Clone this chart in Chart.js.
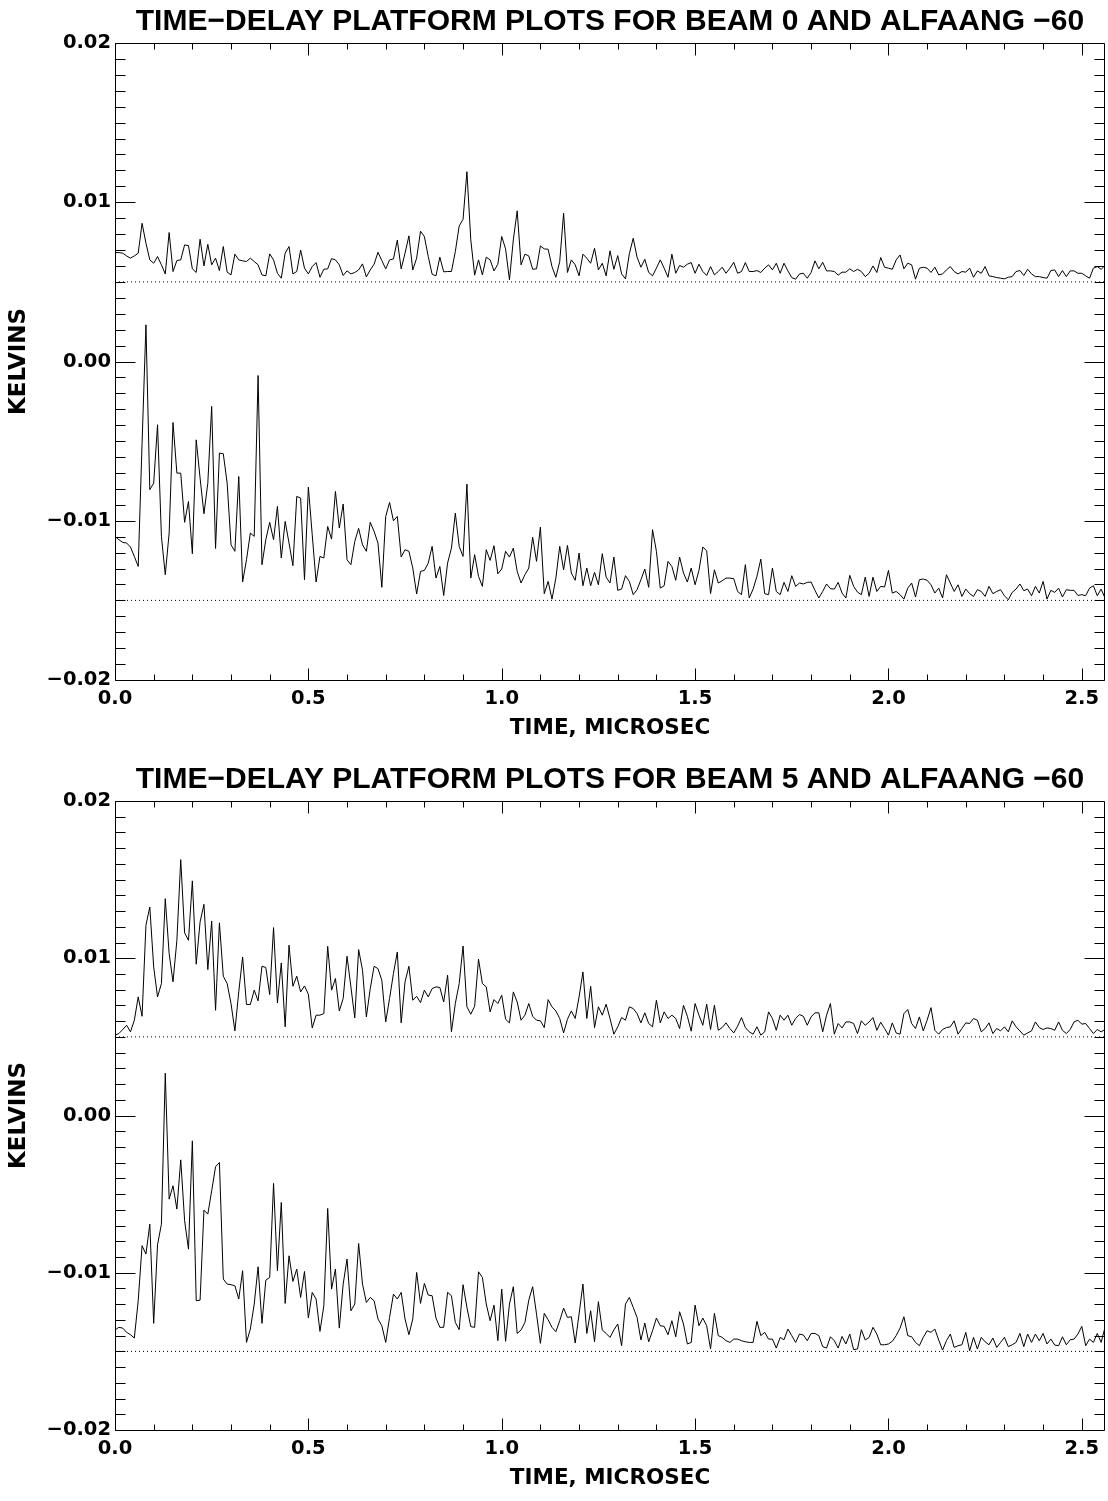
<!DOCTYPE html>
<html>
<head>
<meta charset="utf-8">
<title>Time-delay platform plots</title>
<script src="https://cdn.jsdelivr.net/npm/chart.js@4.4.1/dist/chart.umd.min.js"></script>
<style>
  html, body { margin: 0; padding: 0; background: #fff; }
  body { width: 1108px; height: 1501px; position: relative; overflow: hidden; }
  canvas { position: absolute; left: 0; }
  #beam0Chart { top: 0; }
  #beam5Chart { top: 758px; }
</style>
</head>
<body>
<canvas id="beam0Chart" width="1108" height="750"></canvas>
<canvas id="beam5Chart" width="1108" height="742"></canvas>
<script>
// sampling of the delay axis (microseconds)
const sampleStepUs = 0.01;
const xMaxUs = 2.56;

// all series values in millikelvin
const beam0Upper = [
  6.84, 6.84, 6.80, 6.63, 6.49, 6.63, 6.80, 8.68, 7.43, 6.38,
  6.17, 6.59, 6.07, 5.50, 8.10, 5.65, 6.34, 6.38, 7.32, 7.28,
  5.82, 5.59, 7.68, 6.00, 7.36, 6.07, 6.49, 5.71, 7.22, 5.61,
  5.44, 6.74, 6.38, 6.32, 6.28, 6.49, 6.28, 6.07, 5.44, 5.38,
  6.76, 6.38, 5.54, 5.23, 6.80, 7.22, 5.50, 5.65, 7.00, 5.86,
  5.50, 5.96, 6.21, 5.29, 5.79, 5.82, 6.46, 6.38, 6.07, 5.40,
  5.69, 5.50, 5.59, 5.75, 6.13, 5.31, 5.75, 6.11, 6.86, 6.34,
  5.82, 6.38, 6.44, 7.62, 5.82, 6.80, 7.89, 5.75, 6.49, 8.18,
  7.85, 6.59, 5.48, 5.38, 6.55, 5.63, 5.65, 5.65, 6.90, 8.51,
  8.93, 11.92, 7.64, 5.42, 6.38, 5.44, 6.55, 6.38, 5.69, 6.11,
  7.85, 7.07, 5.13, 7.64, 9.46, 6.07, 6.74, 6.63, 5.79, 5.82,
  7.26, 7.07, 7.05, 5.96, 5.29, 6.28, 9.31, 5.59, 6.38, 6.07,
  5.38, 6.74, 6.49, 6.17, 7.11, 5.75, 6.17, 5.38, 6.95, 5.79,
  6.65, 5.50, 5.19, 6.76, 7.74, 6.55, 5.92, 6.42, 5.59, 5.38,
  5.86, 6.38, 5.86, 5.29, 6.74, 5.54, 6.03, 5.92, 6.11, 6.21,
  5.54, 6.11, 5.65, 5.40, 5.96, 5.44, 5.65, 5.92, 5.54, 5.86,
  6.23, 5.54, 5.65, 6.21, 5.65, 5.65, 5.71, 5.59, 5.86, 6.07,
  5.75, 6.17, 5.54, 6.17, 5.69, 5.27, 5.17, 5.50, 5.54, 5.23,
  5.59, 6.32, 5.82, 6.23, 5.69, 5.69, 5.65, 5.42, 5.61, 5.61,
  5.82, 5.65, 5.79, 5.65, 5.33, 5.54, 6.00, 5.59, 6.53, 5.92,
  5.86, 5.79, 6.38, 6.69, 5.82, 6.17, 6.07, 5.17, 5.86, 5.92,
  5.86, 5.59, 5.92, 5.44, 5.50, 5.75, 5.96, 5.65, 5.50, 5.65,
  5.61, 5.86, 5.29, 5.69, 5.54, 5.96, 5.38, 5.33, 5.27, 5.23,
  5.19, 5.29, 5.33, 5.65, 5.71, 5.40, 5.79, 5.50, 5.33, 5.33,
  5.27, 5.23, 5.71, 5.75, 5.33, 5.71, 5.33, 5.69, 5.69, 5.54,
  5.54, 5.38, 5.23, 5.86, 5.96, 5.79, 6.03
];

const beam0Lower = [
  -10.98, -11.19, -11.36, -11.40, -11.65, -12.24, -12.87, -5.13, 2.30, -8.05,
  -7.64, -3.97, -10.98, -13.39, -10.77, -3.83, -7.01, -7.01, -10.10, -8.79,
  -12.07, -4.92, -7.32, -9.56, -7.64, -2.82, -11.74, -5.75, -5.79, -7.64,
  -11.51, -11.92, -7.22, -13.85, -12.45, -10.77, -10.98, -0.88, -12.76, -11.19,
  -10.10, -11.19, -9.10, -12.34, -10.04, -11.40, -12.82, -8.47, -8.58, -13.70,
  -7.89, -10.88, -13.85, -12.24, -12.34, -10.36, -11.15, -8.16, -10.46, -8.95,
  -12.45, -12.76, -11.30, -10.48, -11.51, -11.92, -10.10, -10.67, -11.40, -14.18,
  -9.73, -8.85, -10.00, -9.73, -12.28, -11.82, -11.92, -12.97, -14.60, -13.18,
  -13.12, -12.66, -11.61, -13.60, -12.87, -14.69, -12.66, -11.72, -9.52, -11.61,
  -12.24, -7.70, -13.60, -12.13, -13.49, -14.12, -11.82, -12.49, -11.57, -13.33,
  -13.03, -11.92, -12.28, -11.72, -13.18, -13.91, -13.39, -12.97, -11.03, -12.55,
  -10.40, -14.58, -13.81, -14.92, -13.60, -11.61, -13.08, -11.55, -13.28, -13.74,
  -12.03, -14.08, -12.97, -14.08, -13.24, -14.02, -12.07, -13.54, -13.91, -12.28,
  -14.37, -14.29, -13.45, -13.81, -14.64, -14.33, -13.70, -13.03, -14.18, -10.56,
  -11.92, -14.23, -14.08, -12.55, -12.87, -13.74, -12.28, -13.28, -13.85, -12.97,
  -14.02, -13.12, -11.65, -11.88, -14.58, -13.08, -13.91, -13.77, -13.60, -13.60,
  -13.64, -14.44, -14.64, -12.76, -14.85, -14.29, -13.49, -12.41, -14.58, -14.64,
  -12.97, -14.44, -14.64, -13.87, -14.44, -13.45, -14.12, -13.91, -13.97, -13.87,
  -13.85, -14.37, -14.85, -14.44, -13.97, -14.27, -14.29, -13.87, -14.54, -14.85,
  -13.43, -14.12, -14.48, -14.64, -13.54, -14.75, -13.54, -14.44, -14.12, -14.16,
  -13.12, -14.54, -14.44, -14.64, -14.92, -14.23, -13.91, -14.79, -13.70, -13.66,
  -13.74, -14.02, -14.54, -14.23, -14.85, -13.39, -13.91, -14.44, -14.02, -14.75,
  -14.29, -14.58, -14.75, -14.33, -14.44, -14.75, -14.12, -14.58, -14.44, -14.33,
  -14.71, -14.96, -14.50, -14.29, -13.97, -14.39, -14.29, -14.71, -14.12, -14.54,
  -13.81, -14.92, -14.37, -14.50, -14.23, -14.79, -14.33, -14.37, -14.37, -14.69,
  -14.64, -14.71, -14.23, -14.08, -14.71, -14.29, -14.85
];

const beam5Upper = [
  5.11, 5.21, 5.47, 5.74, 5.32, 6.06, 7.54, 6.31, 12.10, 13.26,
  9.45, 7.54, 8.39, 13.79, 10.30, 8.50, 11.14, 16.27, 11.61, 11.14,
  14.92, 9.62, 12.31, 13.43, 9.28, 12.37, 6.69, 12.25, 8.86, 8.39,
  7.12, 5.38, 7.86, 10.08, 7.06, 7.06, 7.97, 7.29, 9.49, 9.41,
  7.69, 11.95, 7.16, 9.70, 5.64, 10.83, 8.22, 8.86, 7.86, 8.24,
  7.71, 5.57, 6.38, 6.38, 6.48, 10.76, 7.97, 8.71, 6.65, 7.44,
  10.13, 8.18, 6.21, 10.55, 9.24, 6.27, 8.07, 9.49, 9.34, 8.60,
  5.95, 7.44, 9.03, 10.40, 5.89, 8.50, 9.49, 7.33, 7.58, 7.18,
  7.97, 7.54, 8.07, 8.18, 8.14, 7.22, 8.92, 5.32, 7.12, 8.39,
  10.78, 6.91, 6.44, 6.95, 9.94, 8.39, 8.18, 6.59, 7.37, 7.12,
  7.65, 6.12, 5.89, 7.86, 7.22, 6.06, 6.38, 7.12, 6.31, 6.06,
  6.02, 5.59, 7.37, 6.91, 6.65, 6.17, 5.25, 6.12, 6.65, 6.17,
  7.54, 9.13, 6.17, 8.22, 5.59, 6.91, 6.38, 7.08, 6.17, 5.17,
  5.64, 6.23, 6.06, 6.91, 6.80, 6.48, 5.89, 6.53, 5.85, 5.64,
  7.33, 5.89, 6.59, 6.17, 6.38, 6.17, 5.53, 7.01, 6.31, 5.36,
  7.12, 6.38, 5.74, 7.08, 5.47, 7.01, 5.42, 5.59, 5.89, 5.53,
  5.25, 5.68, 6.23, 5.59, 5.32, 5.17, 5.64, 5.11, 5.32, 6.59,
  6.17, 5.42, 6.38, 6.06, 6.38, 5.74, 6.17, 6.42, 6.31, 5.74,
  6.27, 6.53, 6.53, 5.32, 6.38, 7.12, 5.17, 5.85, 5.57, 5.95,
  5.95, 5.85, 5.21, 6.02, 5.74, 5.95, 6.23, 5.42, 5.93, 5.53,
  5.11, 5.89, 5.25, 5.17, 6.48, 6.74, 5.85, 5.53, 6.27, 5.38,
  6.06, 6.86, 5.42, 5.17, 5.47, 5.59, 5.64, 6.02, 5.17, 5.53,
  5.89, 5.85, 6.17, 6.06, 5.32, 5.53, 5.89, 5.21, 5.53, 5.38,
  5.64, 5.32, 6.02, 5.64, 5.38, 5.11, 5.25, 5.38, 5.95, 5.59,
  5.47, 5.57, 5.53, 5.42, 5.95, 5.42, 5.21, 5.47, 5.95, 6.06,
  5.81, 5.85, 5.53, 5.21, 5.47, 5.32, 5.47
];

const beam5Lower = [
  -13.64, -13.47, -13.52, -13.79, -13.94, -14.15, -11.78, -8.28, -8.81, -6.91,
  -13.22, -8.22, -6.91, 2.69, -5.32, -4.47, -5.95, -2.82, -6.69, -8.50,
  -1.61, -11.78, -11.74, -6.02, -6.27, -4.79, -3.26, -2.99, -10.40, -10.72,
  -10.76, -10.83, -11.67, -9.87, -14.43, -13.58, -11.99, -9.62, -13.22, -10.47,
  -10.30, -4.32, -9.87, -5.53, -11.95, -8.92, -10.55, -9.77, -11.57, -9.92,
  -12.88, -11.25, -11.67, -13.73, -12.10, -5.91, -11.04, -9.77, -13.52, -10.72,
  -9.13, -12.42, -11.99, -8.14, -10.72, -11.89, -11.57, -11.78, -12.94, -13.37,
  -14.43, -12.84, -11.36, -11.67, -11.25, -12.94, -13.94, -12.94, -9.98, -11.95,
  -10.68, -11.42, -11.46, -12.88, -13.47, -13.47, -11.25, -11.46, -13.16, -13.62,
  -10.76, -12.20, -13.43, -13.47, -9.94, -10.30, -11.99, -13.05, -12.06, -14.32,
  -11.04, -14.36, -11.99, -10.89, -13.86, -13.64, -13.16, -11.74, -10.89, -12.63,
  -14.49, -12.58, -12.99, -13.47, -13.75, -13.05, -12.25, -12.84, -12.80, -14.47,
  -12.63, -10.72, -13.86, -12.42, -14.39, -11.84, -13.64, -13.86, -14.11, -13.64,
  -13.26, -14.64, -11.99, -11.57, -12.20, -12.84, -14.28, -13.20, -14.39, -13.69,
  -12.88, -13.37, -13.41, -13.94, -13.05, -14.07, -12.48, -13.26, -14.53, -14.43,
  -12.06, -13.37, -12.88, -13.37, -14.85, -12.58, -14.00, -14.11, -14.32, -14.43,
  -14.22, -14.22, -14.32, -14.39, -14.43, -14.43, -13.09, -14.00, -13.79, -14.22,
  -14.22, -14.79, -14.11, -14.26, -13.58, -14.00, -14.43, -13.90, -13.96, -14.32,
  -13.86, -13.86, -14.00, -14.70, -14.79, -14.07, -14.32, -14.79, -14.05, -14.53,
  -13.90, -14.89, -14.85, -13.62, -14.28, -14.11, -13.47, -13.90, -14.58, -14.58,
  -14.53, -14.36, -14.00, -13.52, -12.80, -14.00, -14.07, -14.43, -14.64, -14.11,
  -13.69, -13.79, -13.58, -14.28, -14.92, -14.32, -13.90, -14.75, -14.64, -14.58,
  -13.79, -14.96, -14.11, -14.85, -14.11, -14.39, -14.58, -14.15, -14.75, -14.43,
  -14.11, -14.70, -14.58, -14.43, -13.86, -14.70, -13.90, -14.43, -13.90, -14.32,
  -13.86, -14.53, -14.22, -14.60, -14.64, -14.07, -14.58, -14.26, -14.22, -13.90,
  -13.41, -14.64, -14.22, -14.43, -13.86, -14.43, -13.47
];

// dotted reference levels (mK)
const baselinesMk = [5, -15];

const xTickValues = [0, 0.5, 1.0, 1.5, 2.0, 2.5];
const xTickLabels = ['0.0', '0.5', '1.0', '1.5', '2.0', '2.5'];
const yTickValues = [-20, -10, 0, 10, 20];
const yTickLabels = ['\u22120.02', '\u22120.01', '0.00', '0.01', '0.02'];

const timeUs = beam0Upper.map((_, i) => i * sampleStepUs);

const tickFont = { family: 'DejaVu Sans', size: 19.5, weight: 'bold' };

function toPoints(values) {
    return values.map((v, i) => ({ x: timeUs[i], y: v }));
}

// IDL style frame: box with inward major/minor ticks on all four sides
const idlFrame = {
    id: 'idlFrame',
    afterDatasetsDraw(chart) {
        const { ctx, chartArea: a, scales: { x, y } } = chart;
        ctx.save();
        ctx.strokeStyle = '#000';
        ctx.lineWidth = 1;
        ctx.beginPath();
        const left = a.left + 0.5, right = a.right - 0.5;
        const top = a.top + 0.5, bottom = a.bottom + 0.5;
        ctx.rect(left, top, right - left, bottom - top);
        for (let k = yTickValues[0]; k <= yTickValues[yTickValues.length - 1]; k++) {
            const py = Math.round(y.getPixelForValue(k)) + 0.5;
            const len = k % 10 === 0 ? 20 : 10;
            ctx.moveTo(left, py); ctx.lineTo(left + len, py);
            ctx.moveTo(right, py); ctx.lineTo(right - len, py);
        }
        for (let k = 0; k <= 25; k++) {
            const px = Math.round(x.getPixelForValue(k / 10)) + 0.5;
            const len = k % 5 === 0 ? 12 : 6;
            ctx.moveTo(px, bottom); ctx.lineTo(px, bottom - len);
            ctx.moveTo(px, top); ctx.lineTo(px, top + len);
        }
        ctx.stroke();
        ctx.restore();
    }
};

function buildChart(canvasId, titleText, upperSeries, lowerSeries) {
    const ctx = document.getElementById(canvasId).getContext('2d');
    const traceStyle = {
        borderColor: '#000',
        borderWidth: 1,
        pointRadius: 0,
        tension: 0,
        borderJoinStyle: 'round'
    };
    const baselineSets = baselinesMk.map(level => ({
        data: [{ x: 0, y: level }, { x: xMaxUs, y: level }],
        borderColor: '#000',
        borderWidth: 1,
        borderDash: [1, 3],
        pointRadius: 0
    }));

    return new Chart(ctx, {
        type: 'line',
        data: {
            datasets: [
                { data: toPoints(upperSeries), ...traceStyle },
                { data: toPoints(lowerSeries), ...traceStyle },
                ...baselineSets
            ]
        },
        options: {
            responsive: false,
            animation: false,
            devicePixelRatio: 1,
            events: [],
            layout: { padding: { left: 0, right: 3, top: 0, bottom: 0 } },
            plugins: {
                legend: { display: false },
                tooltip: { enabled: false },
                title: {
                    display: true,
                    text: titleText,
                    fullSize: false,
                    color: '#000',
                    font: { family: 'Liberation Sans', size: 30, weight: 'bold' },
                    padding: { top: 4, bottom: 3 }
                }
            },
            scales: {
                x: {
                    type: 'linear',
                    min: 0,
                    max: xMaxUs,
                    grid: { display: false, drawTicks: false },
                    border: { display: false },
                    afterBuildTicks: scale => {
                        scale.ticks = xTickValues.map(v => ({ value: v }));
                    },
                    afterFit: scale => { scale.height = 70; },
                    ticks: {
                        color: '#000',
                        font: tickFont,
                        padding: 7,
                        maxRotation: 0,
                        callback: v => xTickLabels[xTickValues.indexOf(v)]
                    },
                    title: {
                        display: true,
                        text: 'TIME, MICROSEC',
                        color: '#000',
                        font: { family: 'DejaVu Sans', size: 21.5, weight: 'bold' },
                        padding: { top: 0, bottom: 9 }
                    }
                },
                y: {
                    type: 'linear',
                    min: yTickValues[0],
                    max: yTickValues[yTickValues.length - 1],
                    grid: { display: false, drawTicks: false },
                    border: { display: false },
                    afterBuildTicks: scale => {
                        scale.ticks = yTickValues.map(v => ({ value: v }));
                    },
                    afterFit: scale => { scale.width = 115; },
                    ticks: {
                        color: '#000',
                        font: tickFont,
                        padding: 4,
                        callback: v => yTickLabels[yTickValues.indexOf(v)]
                    },
                    title: {
                        display: true,
                        text: 'KELVINS',
                        color: '#000',
                        font: { family: 'DejaVu Sans', size: 23, weight: 'bold' },
                        padding: { top: 5, bottom: 0 }
                    }
                }
            }
        },
        plugins: [idlFrame]
    });
}

buildChart('beam0Chart', 'TIME\u2212DELAY PLATFORM PLOTS FOR BEAM 0 AND ALFAANG \u221260', beam0Upper, beam0Lower);
buildChart('beam5Chart', 'TIME\u2212DELAY PLATFORM PLOTS FOR BEAM 5 AND ALFAANG \u221260', beam5Upper, beam5Lower);
</script>
</body>
</html>
